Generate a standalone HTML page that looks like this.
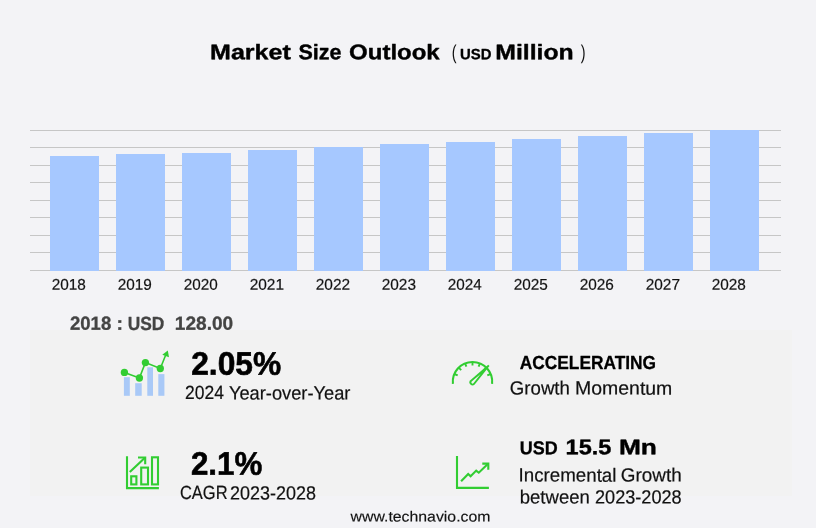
<!DOCTYPE html>
<html lang="en"><head><meta charset="utf-8"><title>Market Size Outlook</title>
<style>
html,body{margin:0;padding:0;background:#f3f3f6;}
body{width:816px;height:528px;overflow:hidden;position:relative;font-family:"Liberation Sans","DejaVu Sans",sans-serif;}
svg{position:absolute;left:0;top:0;display:block}
text{font-family:"Liberation Sans","DejaVu Sans",sans-serif;fill:#111;stroke-linejoin:round}
.b{font-weight:bold}
</style></head><body>
<svg width="816" height="528" viewBox="0 0 816 528">
<rect x="0" y="0" width="816" height="528" fill="#f3f3f6"/>
<rect x="30" y="330" width="762" height="166" fill="#f2f2f2"/>

<rect x="30" y="130" width="751" height="1" fill="#c6c6c6"/>
<rect x="30" y="147" width="751" height="1" fill="#c6c6c6"/>
<rect x="30" y="165" width="751" height="1" fill="#c6c6c6"/>
<rect x="30" y="182" width="751" height="1" fill="#c6c6c6"/>
<rect x="30" y="200" width="751" height="1" fill="#c6c6c6"/>
<rect x="30" y="217" width="751" height="1" fill="#c6c6c6"/>
<rect x="30" y="235" width="751" height="1" fill="#c6c6c6"/>
<rect x="30" y="252" width="751" height="1" fill="#c6c6c6"/>
<rect x="30" y="270" width="751" height="1" fill="#c6c6c6"/>
<rect x="50" y="156.00" width="49" height="115.00" fill="#a6c8ff"/>
<rect x="116" y="154.00" width="49" height="117.00" fill="#a6c8ff"/>
<rect x="182" y="153.00" width="49" height="118.00" fill="#a6c8ff"/>
<rect x="248" y="150.00" width="49" height="121.00" fill="#a6c8ff"/>
<rect x="314" y="147.00" width="49" height="124.00" fill="#a6c8ff"/>
<rect x="380" y="144.00" width="49" height="127.00" fill="#a6c8ff"/>
<rect x="446" y="142.00" width="49" height="129.00" fill="#a6c8ff"/>
<rect x="512" y="139.00" width="49" height="132.00" fill="#a6c8ff"/>
<rect x="578" y="136.00" width="49" height="135.00" fill="#a6c8ff"/>
<rect x="644" y="133.00" width="49" height="138.00" fill="#a6c8ff"/>
<rect x="710" y="130.00" width="49" height="141.00" fill="#a6c8ff"/>
<g>
<text id="y2018" x="51.74" y="289.70" transform="rotate(0.03 51.74 289.70)" font-size="15.50" textLength="34.13" lengthAdjust="spacingAndGlyphs" style="fill:#111;stroke:#111;stroke-width:0.2;">2018</text>
<text id="y2019" x="117.74" y="289.70" transform="rotate(0.03 117.74 289.70)" font-size="15.50" textLength="34.05" lengthAdjust="spacingAndGlyphs" style="fill:#111;stroke:#111;stroke-width:0.2;">2019</text>
<text id="y2020" x="183.75" y="289.70" transform="rotate(0.03 183.75 289.70)" font-size="15.50" textLength="33.93" lengthAdjust="spacingAndGlyphs" style="fill:#111;stroke:#111;stroke-width:0.2;">2020</text>
<text id="y2021" x="249.74" y="289.70" transform="rotate(0.03 249.74 289.70)" font-size="15.50" textLength="34.27" lengthAdjust="spacingAndGlyphs" style="fill:#111;stroke:#111;stroke-width:0.2;">2021</text>
<text id="y2022" x="315.74" y="289.70" transform="rotate(0.03 315.74 289.70)" font-size="15.50" textLength="34.30" lengthAdjust="spacingAndGlyphs" style="fill:#111;stroke:#111;stroke-width:0.2;">2022</text>
<text id="y2023" x="381.75" y="289.70" transform="rotate(0.03 381.75 289.70)" font-size="15.50" textLength="34.18" lengthAdjust="spacingAndGlyphs" style="fill:#111;stroke:#111;stroke-width:0.2;">2023</text>
<text id="y2024" x="447.74" y="289.70" transform="rotate(0.03 447.74 289.70)" font-size="15.50" textLength="33.88" lengthAdjust="spacingAndGlyphs" style="fill:#111;stroke:#111;stroke-width:0.2;">2024</text>
<text id="y2025" x="513.74" y="289.70" transform="rotate(0.03 513.74 289.70)" font-size="15.50" textLength="34.11" lengthAdjust="spacingAndGlyphs" style="fill:#111;stroke:#111;stroke-width:0.2;">2025</text>
<text id="y2026" x="579.75" y="289.70" transform="rotate(0.03 579.75 289.70)" font-size="15.50" textLength="34.16" lengthAdjust="spacingAndGlyphs" style="fill:#111;stroke:#111;stroke-width:0.2;">2026</text>
<text id="y2027" x="645.74" y="289.70" transform="rotate(0.03 645.74 289.70)" font-size="15.50" textLength="34.22" lengthAdjust="spacingAndGlyphs" style="fill:#111;stroke:#111;stroke-width:0.2;">2027</text>
<text id="y2028" x="711.74" y="289.70" transform="rotate(0.03 711.74 289.70)" font-size="15.50" textLength="34.13" lengthAdjust="spacingAndGlyphs" style="fill:#111;stroke:#111;stroke-width:0.2;">2028</text>
<text id="t1a" x="210.08" y="59.20" transform="rotate(0.03 210.08 59.20)" font-size="21.20" textLength="80.70" lengthAdjust="spacingAndGlyphs" class="b" style="fill:#000;stroke:#000;stroke-width:0.4;">Market</text>
<text id="t1b" x="298.54" y="59.20" transform="rotate(0.03 298.54 59.20)" font-size="21.20" textLength="42.98" lengthAdjust="spacingAndGlyphs" class="b" style="fill:#000;stroke:#000;stroke-width:0.4;">Size</text>
<text id="t1c" x="349.10" y="59.20" transform="rotate(0.03 349.10 59.20)" font-size="21.20" textLength="90.61" lengthAdjust="spacingAndGlyphs" class="b" style="fill:#000;stroke:#000;stroke-width:0.4;">Outlook</text>
<text id="t2" x="0" y="0" transform="translate(451.66 59.10) rotate(0.03) scale(0.72 1)" font-size="20.00" style="fill:#111;">(</text>
<text id="t3" x="460.07" y="59.20" transform="rotate(0.03 460.07 59.20)" font-size="14.90" textLength="31.45" lengthAdjust="spacingAndGlyphs" class="b" style="fill:#000;stroke:#000;stroke-width:0.3;">USD</text>
<text id="t4" x="495.33" y="59.20" transform="rotate(0.03 495.33 59.20)" font-size="21.20" textLength="78.43" lengthAdjust="spacingAndGlyphs" class="b" style="fill:#000;stroke:#000;stroke-width:0.4;">Million</text>
<text id="t5" x="0" y="0" transform="translate(580.83 59.10) rotate(0.03) scale(0.72 1)" font-size="20.00" style="fill:#111;">)</text>
<text id="i1" x="70.04" y="329.70" transform="rotate(0.03 70.04 329.70)" font-size="19.00" textLength="41.20" lengthAdjust="spacingAndGlyphs" class="b" style="fill:#444;stroke:#444;stroke-width:0.3;">2018</text>
<text id="i2" x="116.41" y="329.70" transform="rotate(0.03 116.41 329.70)" font-size="19.00" textLength="6.50" lengthAdjust="spacingAndGlyphs" class="b" style="fill:#444;stroke:#444;stroke-width:0.3;">:</text>
<text id="i3" x="127.72" y="329.70" transform="rotate(0.03 127.72 329.70)" font-size="19.00" textLength="36.61" lengthAdjust="spacingAndGlyphs" class="b" style="fill:#444;stroke:#444;stroke-width:0.3;">USD</text>
<text id="i4" x="174.85" y="329.70" transform="rotate(0.03 174.85 329.70)" font-size="19.00" textLength="58.36" lengthAdjust="spacingAndGlyphs" class="b" style="fill:#444;stroke:#444;stroke-width:0.3;">128.00</text>
<text id="s1" x="191.23" y="374.70" transform="rotate(0.03 191.23 374.70)" font-size="32.60" textLength="89.83" lengthAdjust="spacingAndGlyphs" class="b" style="fill:#000;stroke:#000;stroke-width:0.6;">2.05%</text>
<text id="s2a" x="185.10" y="399.40" transform="rotate(0.03 185.10 399.40)" font-size="19.10" textLength="38.86" lengthAdjust="spacingAndGlyphs" style="fill:#111;stroke:#111;stroke-width:0.2;">2024</text>
<text id="s2b" x="228.91" y="399.40" transform="rotate(0.03 228.91 399.40)" font-size="19.10" textLength="121.50" lengthAdjust="spacingAndGlyphs" style="fill:#111;stroke:#111;stroke-width:0.2;">Year-over-Year</text>
<text id="s3" x="190.93" y="474.70" transform="rotate(0.03 190.93 474.70)" font-size="32.60" textLength="71.26" lengthAdjust="spacingAndGlyphs" class="b" style="fill:#000;stroke:#000;stroke-width:0.6;">2.1%</text>
<text id="s4a" x="179.91" y="499.40" transform="rotate(0.03 179.91 499.40)" font-size="19.10" textLength="47.63" lengthAdjust="spacingAndGlyphs" style="fill:#111;stroke:#111;stroke-width:0.2;">CAGR</text>
<text id="s4b" x="230.00" y="499.40" transform="rotate(0.03 230.00 499.40)" font-size="19.10" textLength="85.91" lengthAdjust="spacingAndGlyphs" style="fill:#111;stroke:#111;stroke-width:0.2;">2023-2028</text>
<text id="s5" x="519.80" y="369.40" transform="rotate(0.03 519.80 369.40)" font-size="18.90" textLength="136.28" lengthAdjust="spacingAndGlyphs" class="b" style="fill:#000;stroke:#000;stroke-width:0.3;">ACCELERATING</text>
<text id="s6a" x="509.85" y="394.60" transform="rotate(0.03 509.85 394.60)" font-size="19.10" textLength="60.07" lengthAdjust="spacingAndGlyphs" style="fill:#111;stroke:#111;stroke-width:0.2;">Growth</text>
<text id="s6b" x="575.00" y="394.60" transform="rotate(0.03 575.00 394.60)" font-size="19.10" textLength="97.33" lengthAdjust="spacingAndGlyphs" style="fill:#111;stroke:#111;stroke-width:0.2;">Momentum</text>
<text id="s7" x="519.84" y="454.30" transform="rotate(0.03 519.84 454.30)" font-size="18.60" textLength="37.98" lengthAdjust="spacingAndGlyphs" class="b" style="fill:#000;stroke:#000;stroke-width:0.3;">USD</text>
<text id="s8a" x="565.58" y="454.30" transform="rotate(0.03 565.58 454.30)" font-size="21.20" textLength="45.75" lengthAdjust="spacingAndGlyphs" class="b" style="fill:#000;stroke:#000;stroke-width:0.4;">15.5</text>
<text id="s8b" x="618.95" y="454.30" transform="rotate(0.03 618.95 454.30)" font-size="21.20" textLength="38.01" lengthAdjust="spacingAndGlyphs" class="b" style="fill:#000;stroke:#000;stroke-width:0.4;">Mn</text>
<text id="s9a" x="518.60" y="481.60" transform="rotate(0.03 518.60 481.60)" font-size="19.10" textLength="97.84" lengthAdjust="spacingAndGlyphs" style="fill:#111;stroke:#111;stroke-width:0.2;">Incremental</text>
<text id="s9b" x="620.87" y="481.60" transform="rotate(0.03 620.87 481.60)" font-size="19.10" textLength="60.82" lengthAdjust="spacingAndGlyphs" style="fill:#111;stroke:#111;stroke-width:0.2;">Growth</text>
<text id="s10a" x="519.75" y="503.40" transform="rotate(0.03 519.75 503.40)" font-size="19.10" textLength="70.11" lengthAdjust="spacingAndGlyphs" style="fill:#111;stroke:#111;stroke-width:0.2;">between</text>
<text id="s10b" x="594.97" y="503.40" transform="rotate(0.03 594.97 503.40)" font-size="19.10" textLength="86.70" lengthAdjust="spacingAndGlyphs" style="fill:#111;stroke:#111;stroke-width:0.2;">2023-2028</text>
<text id="f1" x="350.59" y="521.50" transform="rotate(0.03 350.59 521.50)" font-size="14.60" textLength="139.85" lengthAdjust="spacingAndGlyphs" style="fill:#111;stroke:#111;stroke-width:0.15;">www.technavio.com</text>
</g>
<rect x="123.9" y="377.2" width="5.9" height="18.6" fill="#a9c9f7"/>
<rect x="135.2" y="383.2" width="6.5" height="12.6" fill="#a9c9f7"/>
<rect x="147.3" y="367.3" width="5.7" height="28.5" fill="#a9c9f7"/>
<rect x="158.3" y="374.1" width="6.1" height="21.7" fill="#a9c9f7"/>
<polyline points="124.4,372.4 139.4,378.0 145.4,362.6 160.3,368.5 166.2,353.8" fill="none" stroke="#32cd32" stroke-width="1.6"/>
<circle cx="124.4" cy="372.4" r="3.65" fill="#32cd32"/>
<circle cx="139.4" cy="378.0" r="3.65" fill="#32cd32"/>
<circle cx="145.4" cy="362.6" r="3.65" fill="#32cd32"/>
<circle cx="160.3" cy="368.5" r="3.65" fill="#32cd32"/>
<polygon points="162.3,354.8 167.8,350.6 169,357.3" fill="#32cd32"/>
<g fill="none" stroke="#32cd32" stroke-width="2.1">
<polyline points="127,456.2 127,488.1 158.9,488.1"/>
<rect x="131.2" y="476.3" width="5.2" height="8.1"/>
<rect x="141.2" y="467.6" width="6.8" height="16.8"/>
<rect x="152" y="457.3" width="6" height="27.1"/>
<polyline points="129.8,472 144.9,457.7"/>
<polyline points="138,457.5 145.2,457.5 145.2,464.3"/>
</g>
<g fill="none" stroke="#32cd32" stroke-width="2.1">
<path d="M452.92,383.8 A19.7,19.7 0 1 1 492.08,383.8"/>
<line x1="454.3" y1="374.0" x2="457.7" y2="375.4" stroke-width="1.9"/>
<line x1="458.6" y1="367.6" x2="461.2" y2="370.2" stroke-width="1.9"/>
<line x1="465.0" y1="363.3" x2="466.4" y2="366.7" stroke-width="1.9"/>
<line x1="472.5" y1="361.8" x2="472.5" y2="365.5" stroke-width="1.9"/>
<line x1="480.0" y1="363.3" x2="478.6" y2="366.7" stroke-width="1.9"/>
<line x1="486.4" y1="367.6" x2="483.8" y2="370.2" stroke-width="1.9"/>
<line x1="490.7" y1="374.0" x2="487.3" y2="375.4" stroke-width="1.9"/>
</g>
<path d="M489.5,365.9 L474.7,384.5 A3,3 0 0 1 470.3,380.3 L488.2,364.7 Z" fill="#32cd32"/>
<path d="M480.6,373.9 L473.4,383.2 A1.15,1.15 0 0 1 471.7,381.6 Z" fill="#f2f2f2"/>
<g fill="none" stroke="#32cd32" stroke-width="2.1">
<polyline points="457,456 457,487.9 488.9,487.9"/>
<polyline points="461.1,481.2 468.2,473.9 470.6,476.2 476.2,470.6 478.8,472.7 487.8,464"/>
<polyline points="482.3,463.6 488.3,463.6 488.3,469.7"/>
</g>
</svg></body></html>
